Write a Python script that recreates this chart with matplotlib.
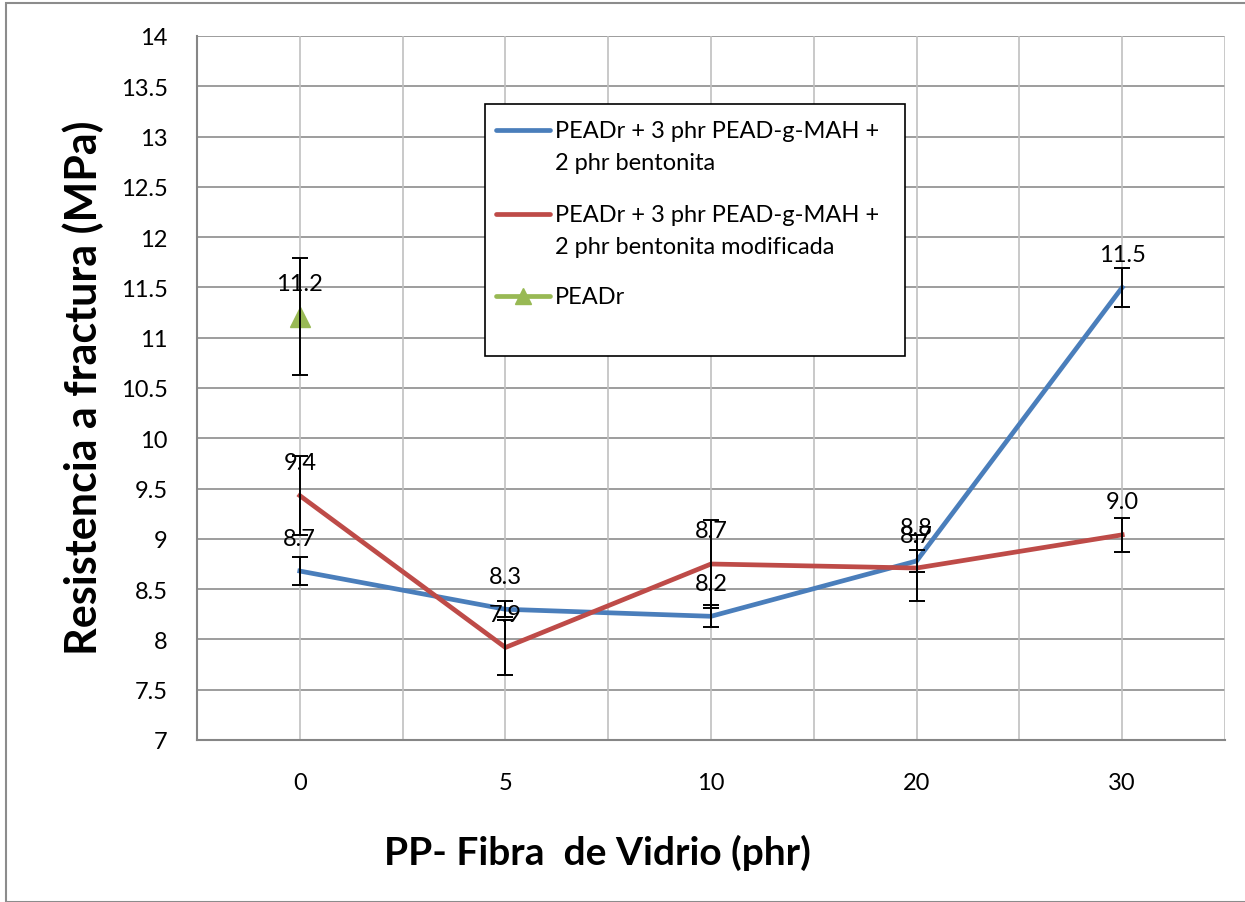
import matplotlib.pyplot as plt
from matplotlib.lines import Line2D
from matplotlib.patches import Rectangle
import numpy as np

plt.rcParams['font.family'] = ['Lato', 'DejaVu Sans']

categories = ['0', '5', '10', '20', '30']
bentonita = [8.68, 8.30, 8.23, 8.78, 11.50]
bentonita_err = [0.14, 0.08, 0.11, 0.11, 0.19]
bentonita_lbl = ['8.7', '8.3', '8.2', '8.8', '11.5']
modificada = [9.43, 7.92, 8.75, 8.71, 9.04]
modificada_err = [0.39, 0.27, 0.44, 0.33, 0.17]
modificada_lbl = ['9.4', '7.9', '8.7', '8.7', '9.0']
peadr = [11.21]
peadr_err = [0.58]
peadr_lbl = ['11.2']

legend_labels = [
    ['PEADr + 3 phr PEAD-g-MAH +', '2 phr bentonita'],
    ['PEADr + 3 phr PEAD-g-MAH +', '2 phr bentonita modificada'],
    ['PEADr'],
]

W, H = 1245, 903
fig = plt.figure(figsize=(W / 100, H / 100), dpi=100)
ax = fig.add_axes([197 / W, 1 - 741 / H, (1225 - 197) / W, (741 - 37) / H])

def px(x, y):
    return x / W, 1 - y / H

blue, red, green = '#4A7EBB', '#BE4B48', '#98B954'
x = np.arange(len(categories))

ax.plot(x, bentonita, color=blue, lw=3.4, zorder=3)
ax.plot(x, modificada, color=red, lw=3.4, zorder=3)
ax.plot(x[:1], peadr, color=green, lw=3.4, marker='^', markersize=14, zorder=3)
for vals, err in [(bentonita, bentonita_err), (modificada, modificada_err), (peadr, peadr_err)]:
    ax.errorbar(x[:len(vals)], vals, yerr=err, fmt='none', ecolor='black',
                elinewidth=1.4, capsize=6, capthick=1.4, zorder=4)
for vals, lbls in [(bentonita, bentonita_lbl), (modificada, modificada_lbl), (peadr, peadr_lbl)]:
    for xi, v, t in zip(x, vals, lbls):
        ax.annotate(t, (xi, v), xytext=(0, 33), textcoords='offset pixels',
                    ha='center', va='center', fontsize=17, zorder=5)

ax.set_xlim(-0.5, 4.5)
ax.set_ylim(7, 14)
ax.set_yticks(np.arange(7, 14.01, 0.5))
ax.set_yticklabels([f'{v:g}' for v in np.arange(7, 14.01, 0.5)])
ax.set_xticks(x)
ax.set_xticklabels(categories)
ax.tick_params(length=0, labelsize=17)
ax.tick_params(axis='y', pad=21)
ax.tick_params(axis='x', pad=23)

for v in np.arange(7, 14.01, 0.5):
    ax.axhline(v, color='#8C8C8C', lw=1.2, zorder=1)
for v in np.arange(-0.5, 4.51, 0.5):
    ax.axvline(v, color='#C0C0C0', lw=1.2, zorder=1)
for s in ['top', 'right']:
    ax.spines[s].set_visible(False)
for s in ['left', 'bottom']:
    ax.spines[s].set_color('#868686')
    ax.spines[s].set_linewidth(1.5)

fig.text(83 / W, 1 - 388 / H, 'Resistencia a fractura (MPa)', rotation=90,
         ha='center', va='center', fontsize=31, fontweight='bold')
fig.text(597 / W, 1 - 853 / H, 'PP- Fibra  de Vidrio (phr)',
         ha='center', va='center', fontsize=28, fontweight='bold')

# legend box drawn by hand to match layout
fig.add_artist(Rectangle(px(485, 357), 420 / W, 252 / H, transform=fig.transFigure,
                         facecolor='white', edgecolor='black', lw=1.2, zorder=6))
rows = [131, 215, 297]
for (cy, lbl, c, mk) in zip(rows, legend_labels, [blue, red, green], [None, None, '^']):
    x0, y0 = px(496, cy)
    xm, _ = px(523, cy)
    x1, _ = px(550, cy)
    fig.add_artist(Line2D([x0, xm, x1], [y0, y0, y0], color=c, lw=3.4, marker=mk,
                          markersize=12, markevery=[1] if mk else None,
                          transform=fig.transFigure, solid_capstyle='round', zorder=7))
    for i, t in enumerate(lbl):
        fig.text(555 / W, 1 - (cy + 33 * i) / H, t, ha='left', va='center',
                 fontsize=17, zorder=7)

fig.add_artist(Rectangle(px(6, 903), 1300 / W, (903 - 4) / H, transform=fig.transFigure,
                         facecolor='none', edgecolor='#8C8C8C', lw=1.5, zorder=0))

fig.savefig('out.png', dpi=100)
